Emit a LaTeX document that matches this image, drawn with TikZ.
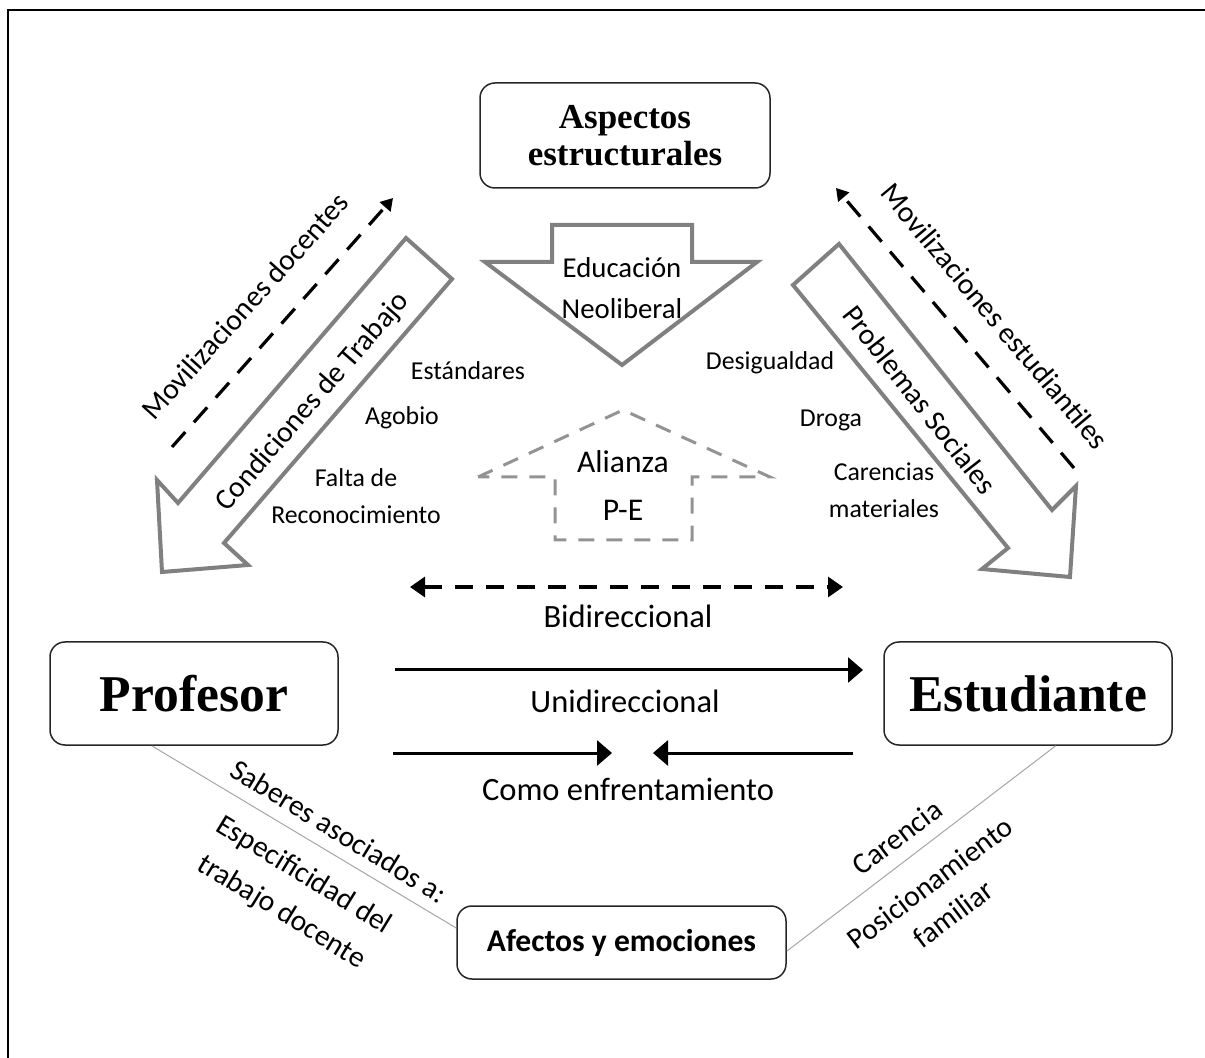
\documentclass[tikz,border=0pt]{standalone}
\usepackage{fontspec}
\setmainfont{Carlito}
\newfontfamily\titlefont{Liberation Serif}
\usetikzlibrary{arrows.meta}

\begin{document}
\begin{tikzpicture}[x=0.5pt,y=-0.5pt]
  \tikzstyle{box}=[draw=black!85,line width=0.75pt,rounded corners=7.5pt,align=center]
  \tikzstyle{hollow}=[draw=gray,line width=2pt,fill=white]
  \tikzstyle{lbl}=[inner sep=0pt,align=center,font=\fontsize{12.9}{18.5}\selectfont]
  \tikzstyle{big}=[inner sep=0pt,font=\fontsize{16.25}{20}\selectfont]
  \tikzstyle{side}=[inner sep=0pt,align=center,font=\fontsize{14.8}{20}\selectfont]
  \tikzstyle{uni}=[line width=1.5pt,-{Triangle[length=7.5pt,width=12.5pt]}]
  \tikzstyle{dashline}=[line width=1.6pt,dash pattern=on 9pt off 6.5pt]
  \tikzstyle{link}=[draw=gray!70,line width=0.5pt]
  \useasboundingbox (0,0) rectangle (1205,1058);
  \draw[line width=1pt] (8,1058) -- (8,10) -- (1205,10);

  % hollow arrows
  \draw[hollow] (552,225) -- (692,225) -- (692,262) -- (757,262) -- (622,365) -- (485,262) -- (552,262) -- cycle;
  \draw[hollow] (406,238) -- (452,279) -- (224,543) -- (248,565) -- (162,572) -- (157,480) -- (178,503) -- cycle;
  \draw[hollow] (839,244) -- (793,285) -- (1008,548) -- (982,569) -- (1070,577) -- (1076,486) -- (1052,510) -- cycle;
  \draw[gray!85,line width=1.5pt,dash pattern=on 8pt off 6pt] (478,477) -- (623,410) -- (770,477) -- (692,477) -- (692,540) -- (555,540) -- (555,477) -- cycle;

  % boxes
  \node[box,minimum width=145pt,minimum height=52.5pt,font=\titlefont\bfseries\fontsize{17.5}{18.5}\selectfont] (asp) at (625,135.5) {Aspectos\\estructurales};
  \node[box,minimum width=144pt,minimum height=51.5pt,font=\titlefont\bfseries\fontsize{25.8}{30}\selectfont] (prof) at (194,693.5) {Profesor};
  \node[box,minimum width=144pt,minimum height=51.5pt,font=\titlefont\bfseries\fontsize{25.8}{30}\selectfont] (est) at (1028,693.5) {Estudiante};
  \node[box,minimum width=164.5pt,minimum height=36.5pt,font=\bfseries\fontsize{15.8}{19}\selectfont] (afe) at (621.5,942.5) {Afectos y emociones};

  \draw[link] (prof.231) -- (afe.175);
  \draw[link] (est.298) -- (afe.357);

  % arrows between profesor and estudiante
  \coordinate (b1) at (410,587);
  \coordinate (b2) at (843,587);
  \coordinate (u1) at (395,670);
  \coordinate (u2) at (863,670);
  \coordinate (c1) at (393,753);
  \coordinate (c2) at (612,753);
  \coordinate (c3) at (853,753);
  \coordinate (c4) at (653,753);
  \draw[dashline,{Triangle[length=7.5pt,width=10pt]}-{Triangle[length=7.5pt,width=10pt]}] (b1) -- (b2);
  \draw[uni] (u1) -- (u2);
  \draw[uni] (c1) -- (c2);
  \draw[uni] (c3) -- (c4);
  \node[big] (bid) at (628,616) {Bidireccional};
  \node[big] (unid) at (625,701) {Unidireccional};
  \node[big] (enfr) at (628,789) {Como enfrentamiento};

  % movilizaciones
  \coordinate (md1) at (172,447);
  \coordinate (md2) at (393,198);
  \coordinate (me1) at (1074,468);
  \coordinate (me2) at (836,188);
  \draw[dashline,dash pattern=on 10pt off 6.5pt,-{Triangle[length=6pt,width=7pt]}] (md1) -- (md2);
  \draw[dashline,dash pattern=on 10pt off 6.5pt,-{Triangle[length=6pt,width=7pt]}] (me1) -- (me2);
  \node[side,rotate=48] (movd) at (245,306) {Movilizaciones docentes};
  \node[side,rotate=49] (cond) at (313,402) {Condiciones de Trabajo};
  \node[side,rotate=-50] (move) at (995,316) {Movilizaciones estudiantiles};
  \node[side,rotate=-52] (prob) at (920,400) {Problemas Sociales};

  % labels
  \node[lbl,font=\fontsize{14.4}{20.5}\selectfont] (edu) at (622,288.5) {Educación\\Neoliberal};
  \node[lbl,font=\fontsize{15.8}{24}\selectfont] (ali) at (623,486) {Alianza\\P-E};
  \node[lbl] (estd) at (468,371) {Estándares};
  \node[lbl] (agob) at (402,418) {Agobio};
  \node[lbl] (falta) at (356,496.5) {Falta de\\Reconocimiento};
  \node[lbl] (desig) at (770,363) {Desigualdad};
  \node[lbl] (droga) at (831,420) {Droga};
  \node[lbl] (caren) at (884,490.5) {Carencias\\materiales};

  \node[side,rotate=-31.5] (sab) at (339,831) {Saberes asociados a:};
  \node[side,rotate=-31.5,font=\fontsize{14.8}{21.5}\selectfont] (espe) at (292.5,894) {Especificidad del\\trabajo docente};
  \node[side,rotate=37] (carc) at (897,837) {Carencia};
  \node[side,rotate=37,font=\fontsize{14.8}{19.5}\selectfont] (posi) at (941.5,898.5) {Posicionamiento\\familiar};
\end{tikzpicture}
\end{document}
